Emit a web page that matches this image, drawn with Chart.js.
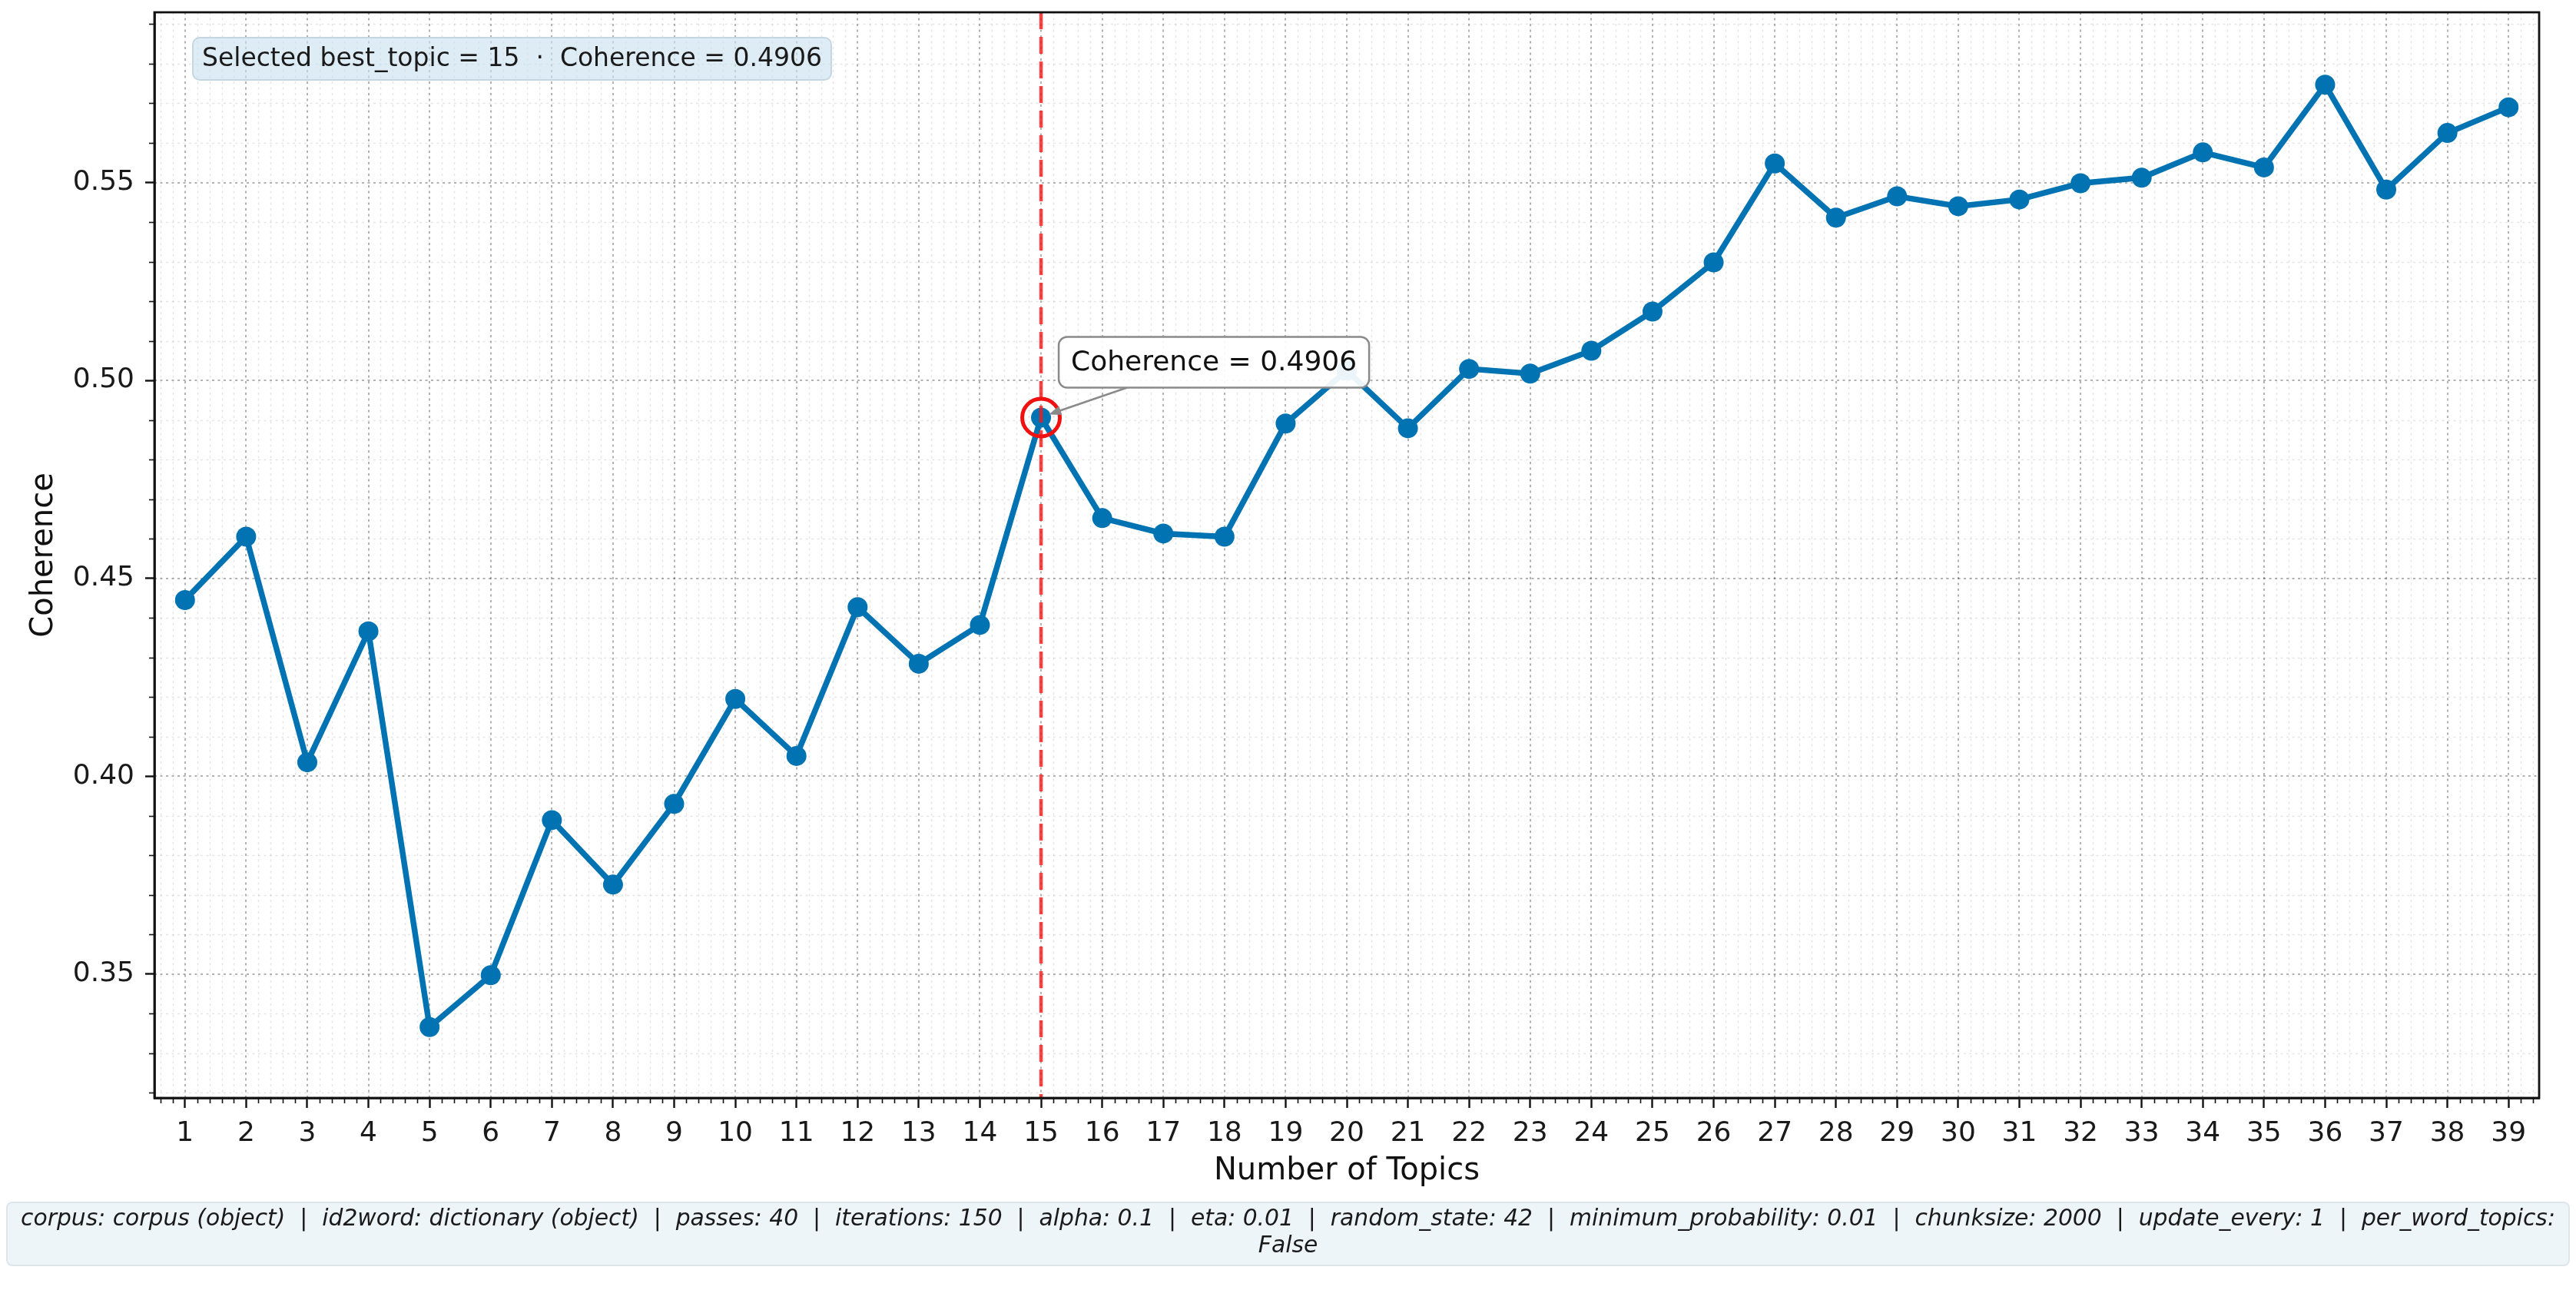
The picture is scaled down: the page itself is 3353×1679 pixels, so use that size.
<!DOCTYPE html>
<html>
<head>
<meta charset="utf-8">
<title>Coherence vs Number of Topics</title>
<script src="https://cdn.jsdelivr.net/npm/chart.js@4.4.1/dist/chart.umd.min.js"></script>
<style>
  html, body { margin: 0; padding: 0; background: #fff; }
  #wrap { width: 3353px; height: 1679px; position: relative; }
</style>
</head>
<body>
<div id="wrap"><canvas id="coherence" width="3353" height="1679"></canvas></div>
<script>
// values
const topics = [1, 2, 3, 4, 5, 6, 7, 8, 9, 10, 11, 12, 13, 14, 15, 16, 17, 18, 19, 20,
                21, 22, 23, 24, 25, 26, 27, 28, 29, 30, 31, 32, 33, 34, 35, 36, 37, 38, 39];
const coherence = [0.4445, 0.4605, 0.4035, 0.4366, 0.3366, 0.3497, 0.3889, 0.3726, 0.3930, 0.4195,
                   0.4051, 0.4427, 0.4284, 0.4382, 0.4906, 0.4652, 0.4613, 0.4605, 0.4891, 0.5025,
                   0.4879, 0.5029, 0.5017, 0.5075, 0.5174, 0.5298, 0.5548, 0.5411, 0.5465, 0.5440,
                   0.5457, 0.5498, 0.5512, 0.5576, 0.5538, 0.5747, 0.5482, 0.5625, 0.5690];
const yTicks = [0.35, 0.40, 0.45, 0.50, 0.55];
const bestTopic = 15;
const bestCoherence = 0.4906;
const selectedText = `Selected best_topic = ${bestTopic}  ·  Coherence = ${bestCoherence.toFixed(4)}`;
const pointText = `Coherence = ${bestCoherence.toFixed(4)}`;
const footerLines = [
  'corpus: corpus (object)  |  id2word: dictionary (object)  |  passes: 40  |  iterations: 150  |  alpha: 0.1  |  eta: 0.01  |  random_state: 42  |  minimum_probability: 0.01  |  chunksize: 2000  |  update_every: 1  |  per_word_topics:',
  'False'
];

const FONT = '"DejaVu Sans", sans-serif';
const BLUE = '#0173B2';

const roundRect = (ctx, x, y, w, h, r) => {
  ctx.beginPath();
  ctx.moveTo(x + r, y);
  ctx.arcTo(x + w, y, x + w, y + h, r);
  ctx.arcTo(x + w, y + h, x, y + h, r);
  ctx.arcTo(x, y + h, x, y, r);
  ctx.arcTo(x, y, x + w, y, r);
  ctx.closePath();
};

// minor + major grid (dotted), behind the line
const gridPlugin = {
  id: 'mplGrid',
  beforeDatasetsDraw(chart) {
    const { ctx, chartArea: a, scales: { x, y } } = chart;
    ctx.save();
    ctx.beginPath();
    ctx.rect(a.left, a.top, a.right - a.left, a.bottom - a.top);
    ctx.clip();

    // minor
    ctx.strokeStyle = 'rgba(0,0,0,0.10)';
    ctx.lineWidth = 1.5;
    ctx.setLineDash([3, 4.5]);
    for (let v = 0.6; v < 39.5; v += 0.2) {
      if (Math.abs(v - Math.round(v)) < 1e-6) continue;
      const px = Math.round(x.getPixelForValue(v)) + 0.5;
      ctx.beginPath(); ctx.moveTo(px, a.top); ctx.lineTo(px, a.bottom); ctx.stroke();
    }
    for (let k = 32; k <= 59; k++) {
      if (k % 5 === 0) continue;
      const py = Math.round(y.getPixelForValue(k / 100)) + 0.5;
      ctx.beginPath(); ctx.moveTo(a.left, py); ctx.lineTo(a.right, py); ctx.stroke();
    }

    // major
    ctx.strokeStyle = 'rgba(0,0,0,0.30)';
    ctx.lineWidth = 2;
    ctx.setLineDash([3, 4.5]);
    topics.forEach(t => {
      const px = Math.round(x.getPixelForValue(t));
      ctx.beginPath(); ctx.moveTo(px, a.top); ctx.lineTo(px, a.bottom); ctx.stroke();
    });
    yTicks.forEach(t => {
      const py = Math.round(y.getPixelForValue(t));
      ctx.beginPath(); ctx.moveTo(a.left, py); ctx.lineTo(a.right, py); ctx.stroke();
    });
    ctx.restore();
  }
};

// best-topic marker, annotations, frame, minor ticks, footer
const overlayPlugin = {
  id: 'mplOverlay',
  afterDatasetsDraw(chart) {
    const { ctx, chartArea: a, scales: { x, y } } = chart;
    const px = x.getPixelForValue(bestTopic);
    const py = y.getPixelForValue(bestCoherence);

    ctx.save();
    // dashed vertical line
    ctx.strokeStyle = 'rgba(255,20,20,0.8)';
    ctx.lineWidth = 4.5;
    ctx.setLineDash([22, 10]);
    ctx.beginPath(); ctx.moveTo(px, a.top); ctx.lineTo(px, a.bottom); ctx.stroke();
    ctx.setLineDash([]);

    // red ring
    ctx.strokeStyle = '#f01010';
    ctx.lineWidth = 5;
    ctx.beginPath(); ctx.arc(px, py, 24.5, 0, Math.PI * 2); ctx.stroke();

    // annotation box + arrow
    ctx.font = `36px ${FONT}`;
    const tw = ctx.measureText(pointText).width;
    const bx = px + 23, by = py - 105, bw = tw + 32, bh = 66;
    const sx = px + 112, sy = by + bh;
    const ex = px + 10, ey = py - 4;
    ctx.strokeStyle = '#8a8a8a';
    ctx.fillStyle = '#8a8a8a';
    ctx.lineWidth = 2.5;
    const ang = Math.atan2(ey - sy, ex - sx);
    ctx.beginPath(); ctx.moveTo(sx, sy); ctx.lineTo(ex - 10 * Math.cos(ang), ey - 10 * Math.sin(ang)); ctx.stroke();
    ctx.beginPath();
    ctx.moveTo(ex, ey);
    ctx.lineTo(ex - 16 * Math.cos(ang) + 6 * Math.sin(ang), ey - 16 * Math.sin(ang) - 6 * Math.cos(ang));
    ctx.lineTo(ex - 16 * Math.cos(ang) - 6 * Math.sin(ang), ey - 16 * Math.sin(ang) + 6 * Math.cos(ang));
    ctx.closePath(); ctx.fill();

    roundRect(ctx, bx, by, bw, bh, 11);
    ctx.fillStyle = 'rgba(255,255,255,0.92)';
    ctx.fill();
    ctx.strokeStyle = '#8a8a8a';
    ctx.lineWidth = 2.5;
    ctx.stroke();
    ctx.fillStyle = '#111';
    ctx.textBaseline = 'middle';
    ctx.textAlign = 'left';
    ctx.fillText(pointText, bx + 16, by + bh / 2 + 1);

    // selected-topic box, top left
    ctx.font = `33px ${FONT}`;
    const sw = ctx.measureText(selectedText).width;
    roundRect(ctx, a.left + 50, a.top + 33, sw + 24, 55, 9);
    ctx.fillStyle = 'rgba(200,224,238,0.6)';
    ctx.fill();
    ctx.strokeStyle = '#c4d6e0';
    ctx.lineWidth = 2;
    ctx.stroke();
    ctx.fillStyle = '#1a1a1a';
    ctx.fillText(selectedText, a.left + 62, a.top + 33 + 28.5);
    ctx.restore();
  },
  afterDraw(chart) {
    const { ctx, chartArea: a, scales: { x, y } } = chart;
    ctx.save();
    // full frame
    ctx.strokeStyle = '#111';
    ctx.lineWidth = 2.8;
    ctx.strokeRect(a.left, a.top, a.right - a.left, a.bottom - a.top);

    // minor ticks
    ctx.lineWidth = 1.6;
    for (let v = 0.6; v < 39.5; v += 0.2) {
      if (Math.abs(v - Math.round(v)) < 1e-6) continue;
      const px = Math.round(x.getPixelForValue(v)) + 0.5;
      ctx.beginPath(); ctx.moveTo(px, a.bottom); ctx.lineTo(px, a.bottom + 7); ctx.stroke();
    }
    for (let k = 32; k <= 59; k++) {
      if (k % 5 === 0) continue;
      const py = Math.round(y.getPixelForValue(k / 100)) + 0.5;
      ctx.beginPath(); ctx.moveTo(a.left, py); ctx.lineTo(a.left - 7, py); ctx.stroke();
    }

    // footer with parameters
    const cx = chart.width / 2;
    let size = 32;
    ctx.font = `italic ${size}px ${FONT}`;
    size = size * 3300 / ctx.measureText(footerLines[0]).width;
    roundRect(ctx, 9, 1565, chart.width - 18, 82, 7);
    ctx.fillStyle = '#eef5f9';
    ctx.fill();
    ctx.strokeStyle = '#dde6eb';
    ctx.lineWidth = 2;
    ctx.stroke();
    ctx.font = `italic ${size}px ${FONT}`;
    ctx.fillStyle = '#1a1a1a';
    ctx.textAlign = 'center';
    ctx.textBaseline = 'middle';
    ctx.fillText(footerLines[0], cx, 1587);
    ctx.fillText(footerLines[1], cx, 1622);
    ctx.restore();
  }
};

Chart.defaults.font.family = FONT;
Chart.defaults.color = '#1a1a1a';

new Chart(document.getElementById('coherence'), {
  type: 'line',
  data: {
    datasets: [{
      label: 'Coherence',
      data: topics.map((t, i) => ({ x: t, y: coherence[i] })),
      borderColor: BLUE,
      backgroundColor: BLUE,
      borderWidth: 7.5,
      pointRadius: 13,
      pointBorderWidth: 0,
      pointBackgroundColor: BLUE,
      tension: 0
    }]
  },
  options: {
    responsive: false,
    devicePixelRatio: 1,
    animation: false,
    layout: { padding: { left: 0, top: 16, right: 48, bottom: 110 } },
    plugins: {
      legend: { display: false },
      tooltip: { enabled: false }
    },
    scales: {
      x: {
        type: 'linear',
        min: 0.5,
        max: 39.5,
        afterBuildTicks: scale => { scale.ticks = topics.map(v => ({ value: v })); },
        afterFit: scale => {
          scale.height = 140;
          scale.paddingLeft = 0;
          scale.paddingRight = 0;
        },
        ticks: {
          autoSkip: false,
          maxRotation: 0,
          padding: 12,
          font: { size: 36 },
          color: '#1a1a1a',
          callback: v => String(v)
        },
        grid: { drawOnChartArea: false, drawTicks: true, tickLength: 13, tickColor: '#111', tickWidth: 2.4 },
        border: { display: true, color: '#111', width: 2.8 },
        title: { display: true, text: 'Number of Topics', font: { size: 40 }, color: '#111', padding: { top: 0, bottom: 20 } }
      },
      y: {
        type: 'linear',
        min: 0.3187,
        max: 0.5930,
        afterBuildTicks: scale => { scale.ticks = yTicks.map(v => ({ value: v })); },
        afterFit: scale => {
          scale.width = 201;
          scale.paddingTop = 0;
          scale.paddingBottom = 0;
        },
        ticks: {
          padding: 14,
          font: { size: 36 },
          color: '#1a1a1a',
          callback: v => v.toFixed(2)
        },
        grid: { drawOnChartArea: false, drawTicks: true, tickLength: 12, tickColor: '#111', tickWidth: 2.4 },
        border: { display: true, color: '#111', width: 2.8 },
        title: { display: true, text: 'Coherence', font: { size: 40 }, color: '#111', padding: { top: 34, bottom: 0 } }
      }
    }
  },
  plugins: [gridPlugin, overlayPlugin]
});
</script>
</body>
</html>
